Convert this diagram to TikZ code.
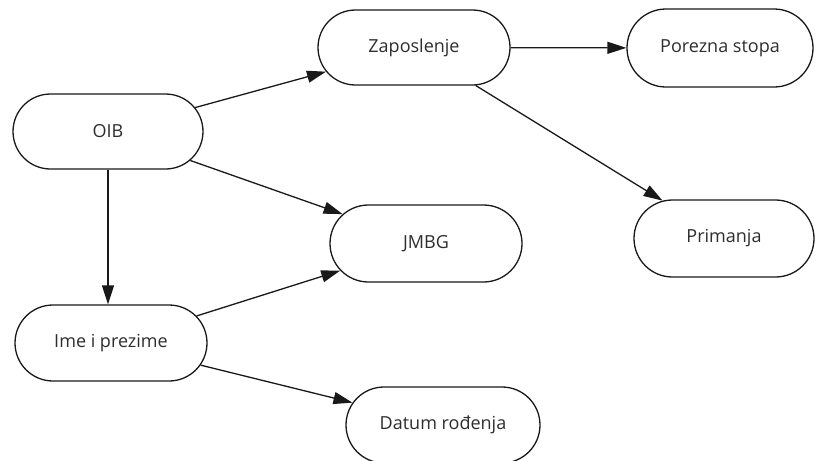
\documentclass[tikz,border=0pt]{standalone}
\usepackage{fontspec}
\setmainfont{Open Sans}
\usetikzlibrary{shapes.misc,arrows.meta}
\begin{document}
\begin{tikzpicture}[x=1pt,y=-1pt,
  box/.style={rounded rectangle,draw=black!90,line width=1.3pt,fill=white,
    inner sep=0pt,text=black!82,font=\fontsize{18}{20}\selectfont},
  conn/.style={draw=black!90,line width=1.3pt,-{Triangle[length=19pt,width=12pt]}}]
\useasboundingbox (0,0) rectangle (815,461);
\node[box,minimum width=190pt,minimum height=75pt] (oib) at (108,131.5) {OIB};
\node[box,minimum width=192pt,minimum height=75pt] (zap) at (414,47.5) {Zaposlenje};
\node[box,minimum width=186pt,minimum height=78pt] (por) at (720,48) {Porezna stopa};
\node[box,minimum width=192pt,minimum height=77pt] (jmbg) at (426,243.5) {JMBG};
\node[box,minimum width=180pt,minimum height=77pt] (prim) at (724,238.5) {Primanja};
\node[box,minimum width=192pt,minimum height=76pt] (ime) at (111,343) {Ime i prezime};
\node[box,minimum width=194pt,minimum height=76pt] (dat) at (443,425) {Datum rođenja};
\draw[conn] (oib) -- (zap);
\draw[conn] (oib) -- (jmbg);
\draw[conn] (oib.south) -- (oib.south |- ime.north);
\draw[conn] (ime) -- (jmbg);
\draw[conn] (ime) -- (dat);
\draw[conn] (zap) -- (por);
\draw[conn] (zap) -- (prim);
\end{tikzpicture}
\end{document}
